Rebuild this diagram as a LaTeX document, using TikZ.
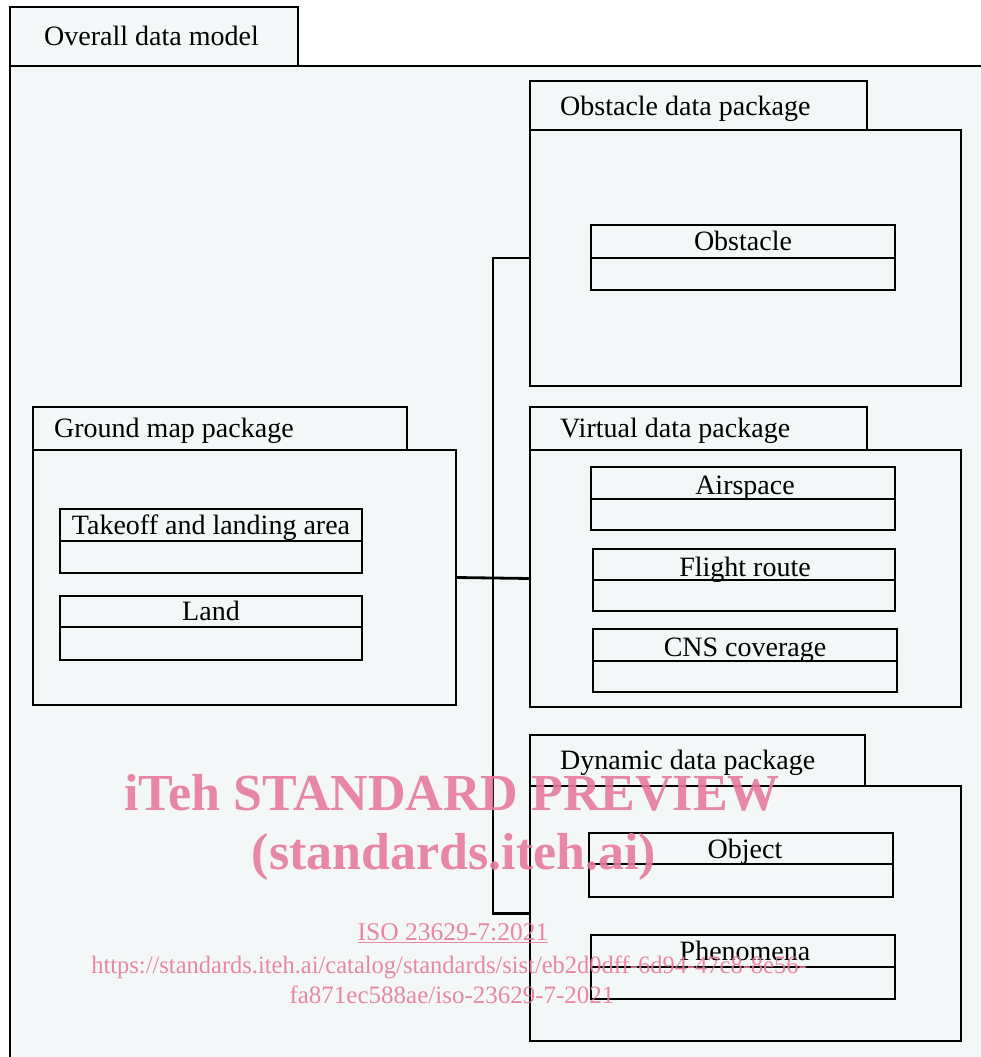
\documentclass[tikz,border=0pt]{standalone}
\usepackage{fontspec}
\setmainfont{Liberation Serif}
\newfontfamily\wmfont{Liberation Serif}
\definecolor{bgfill}{HTML}{F3F7F8}
\definecolor{wmpink}{RGB}{230,122,156}
\begin{document}
\begin{tikzpicture}[x=1pt,y=-1pt,
  box/.style={draw=black,line width=2.8pt,fill=bgfill,anchor=north west,inner sep=0pt,outer sep=0pt},
  tabtext/.style={anchor=base west,inner sep=0pt,font=\fontsize{28}{32}\selectfont},
  clstext/.style={anchor=base,inner sep=0pt,font=\fontsize{28}{32}\selectfont},
  wm/.style={text=wmpink,opacity=0.9,inner sep=0pt,anchor=base}]
\useasboundingbox (0,0) rectangle (981,1057);
\clip (0,0) rectangle (981,1057);
\fill[white] (0,0) rectangle (981,1057);
% overall frame
\node[box,line width=2.5pt,minimum width=288pt,minimum height=59pt] (otab) at (10,7) {};
\node[box,line width=2.5pt,minimum width=990pt,minimum height=1010pt] (obody) at (10,66) {};
\node[tabtext] (otabt) at (44,46) {Overall data model};
% obstacle package
\node[box,minimum width=337pt,minimum height=49pt] (obtab) at (530,81) {};
\node[box,minimum width=431pt,minimum height=256pt] (obbody) at (530,130) {};
\node[tabtext] (obtabt) at (560,115) {Obstacle data package};
\node[box,minimum width=304pt,minimum height=33pt] (c1) at (591,225) {};
\node[box,minimum width=304pt,minimum height=32pt] (c1b) at (591,258) {};
\node[clstext] (c1t) at (743,250) {Obstacle};
% ground map package
\node[box,minimum width=374pt,minimum height=43pt] (gtab) at (33,407) {};
\node[box,minimum width=423pt,minimum height=255pt] (gbody) at (33,450) {};
\node[tabtext] (gtabt) at (54,437) {Ground map package};
\node[box,minimum width=302pt,minimum height=32pt] (c2) at (60,509) {};
\node[box,minimum width=302pt,minimum height=32pt] (c2b) at (60,541) {};
\node[clstext] (c2t) at (211,534) {Takeoff and landing area};
\node[box,minimum width=302pt,minimum height=31pt] (c3) at (60,596) {};
\node[box,minimum width=302pt,minimum height=33pt] (c3b) at (60,627) {};
\node[clstext] (c3t) at (211,620) {Land};
% virtual package
\node[box,minimum width=337pt,minimum height=43pt] (vtab) at (530,407) {};
\node[box,minimum width=431pt,minimum height=257pt] (vbody) at (530,450) {};
\node[tabtext] (vtabt) at (560,437) {Virtual data package};
\node[box,minimum width=304pt,minimum height=32pt] (c4) at (591,467) {};
\node[box,minimum width=304pt,minimum height=31pt] (c4b) at (591,499) {};
\node[clstext] (c4t) at (745,494) {Airspace};
\node[box,minimum width=302pt,minimum height=31pt] (c5) at (593,549) {};
\node[box,minimum width=302pt,minimum height=31pt] (c5b) at (593,580) {};
\node[clstext] (c5t) at (745,576) {Flight route};
\node[box,minimum width=304pt,minimum height=32pt] (c6) at (593,629) {};
\node[box,minimum width=304pt,minimum height=31pt] (c6b) at (593,661) {};
\node[clstext] (c6t) at (745,656) {CNS coverage};
% dynamic package
\node[box,minimum width=335pt,minimum height=51pt] (dtab) at (530,735) {};
\node[box,minimum width=431pt,minimum height=255pt] (dbody) at (530,786) {};
\node[tabtext] (dtabt) at (560,769) {Dynamic data package};
\node[box,minimum width=304pt,minimum height=31pt] (c7) at (589,833) {};
\node[box,minimum width=304pt,minimum height=33pt] (c7b) at (589,864) {};
\node[clstext] (c7t) at (745,858) {Object};
\node[box,minimum width=304pt,minimum height=32pt] (c8) at (591,935) {};
\node[box,minimum width=304pt,minimum height=32pt] (c8b) at (591,967) {};
\node[clstext] (c8t) at (745,960) {Phenomena};
% connectors
\coordinate (bus) at (493,0);
\draw[line width=2.8pt] (gbody.east) -- (vbody.west);
\draw[line width=2.8pt] (obbody.west) -| (bus |- dbody.west) -- (dbody.west);
% watermark
\node[wm,font=\wmfont\bfseries\fontsize{52}{58}\selectfont] (w1) at (452,810) {iTeh STANDARD PREVIEW};
\node[wm,font=\wmfont\bfseries\fontsize{52}{58}\selectfont] (w2) at (454,869) {(standards.iteh.ai)};
\node[wm,font=\wmfont\fontsize{25.5}{28}\selectfont] (w3) at (453,940) {\underline{ISO 23629-7:2021}};
\node[wm,font=\wmfont\fontsize{25}{28}\selectfont,xscale=0.98] (w4) at (449,973) {https://standards.iteh.ai/catalog/standards/sist/eb2d0dff-6d94-47c8-8e56-};
\node[wm,font=\wmfont\fontsize{25}{28}\selectfont] (w5) at (452,1003) {fa871ec588ae/iso-23629-7-2021};
\end{tikzpicture}
\end{document}
